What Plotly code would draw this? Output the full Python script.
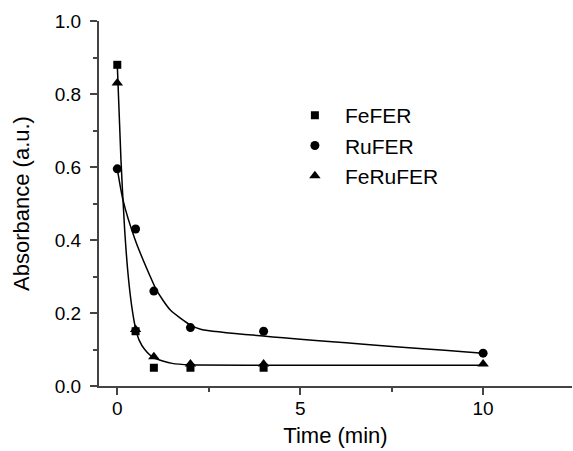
import plotly.graph_objects as go

# Measured absorbance vs. time
t_fefer = [0, 0.5, 1, 2, 4]
a_fefer = [0.88, 0.15, 0.05, 0.05, 0.05]

t_rufer = [0, 0.5, 1, 2, 4, 10]
a_rufer = [0.595, 0.43, 0.26, 0.16, 0.15, 0.09]

t_ferufer = [0, 0.5, 1, 2, 4, 10]
a_ferufer = [0.83, 0.155, 0.08, 0.06, 0.06, 0.06]

# Fitted decay curves (sampled)
fit_fast_t = [0, 0.1, 0.2, 0.3, 0.4, 0.5, 0.6, 0.75, 1.0, 1.5, 2.0, 4.0, 10.0]
fit_fast_a = [0.88, 0.62, 0.43, 0.30, 0.215, 0.158, 0.125, 0.10, 0.077, 0.062, 0.058, 0.057, 0.057]

fit_slow_t = [0, 0.155, 0.49, 0.9, 1.08, 1.45, 2.0, 2.3, 10.0]
fit_slow_a = [0.595, 0.51, 0.40, 0.30, 0.261, 0.208, 0.167, 0.155, 0.09]

FONT = "Liberation Sans, Arial, sans-serif"
AXIS_COLOR = "#444444"

fig = go.Figure()

fig.add_trace(go.Scatter(x=fit_fast_t, y=fit_fast_a, mode="lines",
                         line=dict(color="black", width=1.5, shape="spline", smoothing=0.6),
                         showlegend=False, hoverinfo="skip"))
fig.add_trace(go.Scatter(x=fit_slow_t, y=fit_slow_a, mode="lines",
                         line=dict(color="black", width=1.5, shape="spline", smoothing=0.6),
                         showlegend=False, hoverinfo="skip"))

fig.add_trace(go.Scatter(x=t_fefer, y=a_fefer, mode="markers", name="FeFER",
                         marker=dict(symbol="square", size=8, color="black")))
fig.add_trace(go.Scatter(x=t_rufer, y=a_rufer, mode="markers", name="RuFER",
                         marker=dict(symbol="circle", size=9, color="black")))
fig.add_trace(go.Scatter(x=t_ferufer, y=a_ferufer, mode="markers", name="FeRuFER",
                         marker=dict(symbol="triangle-up", size=10, color="black")))

fig.update_layout(
    width=573, height=451,
    margin=dict(l=99, r=1, t=21, b=65),
    plot_bgcolor="white", paper_bgcolor="white",
    font=dict(family=FONT, size=19, color="black"),
    showlegend=True,
    legend=dict(x=0.393, y=0.797, xanchor="left", yanchor="top",
                bgcolor="rgba(0,0,0,0)", font=dict(size=21, family=FONT),
                itemwidth=50, tracegroupgap=0),
)

fig.update_xaxes(
    range=[-0.5, 12.43], showgrid=False, zeroline=False,
    showline=True, linecolor=AXIS_COLOR, linewidth=2,
    tickmode="array", tickvals=[0, 5, 10], ticktext=["0", "5", "10"],
    ticks="outside", ticklen=7, tickwidth=1.5, tickcolor=AXIS_COLOR,
    minor=dict(tickvals=[2.5, 7.5], ticks="outside", ticklen=4, tickwidth=1.5, tickcolor=AXIS_COLOR),
    tickfont=dict(size=19, family=FONT),
    ticklabelstandoff=-3,
    title=dict(text="Time (min)", font=dict(size=22, family=FONT), standoff=10),
)

fig.update_yaxes(
    range=[0, 1.0], showgrid=False, zeroline=False,
    showline=True, linecolor=AXIS_COLOR, linewidth=2,
    tickmode="array", tickvals=[0, 0.2, 0.4, 0.6, 0.8, 1.0],
    ticktext=["0.0", "0.2", "0.4", "0.6", "0.8", "1.0"],
    ticks="outside", ticklen=7, tickwidth=1.5, tickcolor=AXIS_COLOR,
    minor=dict(tickvals=[0.1, 0.3, 0.5, 0.7, 0.9], ticks="outside", ticklen=4, tickwidth=1.5, tickcolor=AXIS_COLOR),
    tickfont=dict(size=19, family=FONT),
    ticklabelstandoff=5,
    title=dict(text="Absorbance (a.u.)", font=dict(size=22, family=FONT), standoff=19),
)

fig.write_html("out.html")
